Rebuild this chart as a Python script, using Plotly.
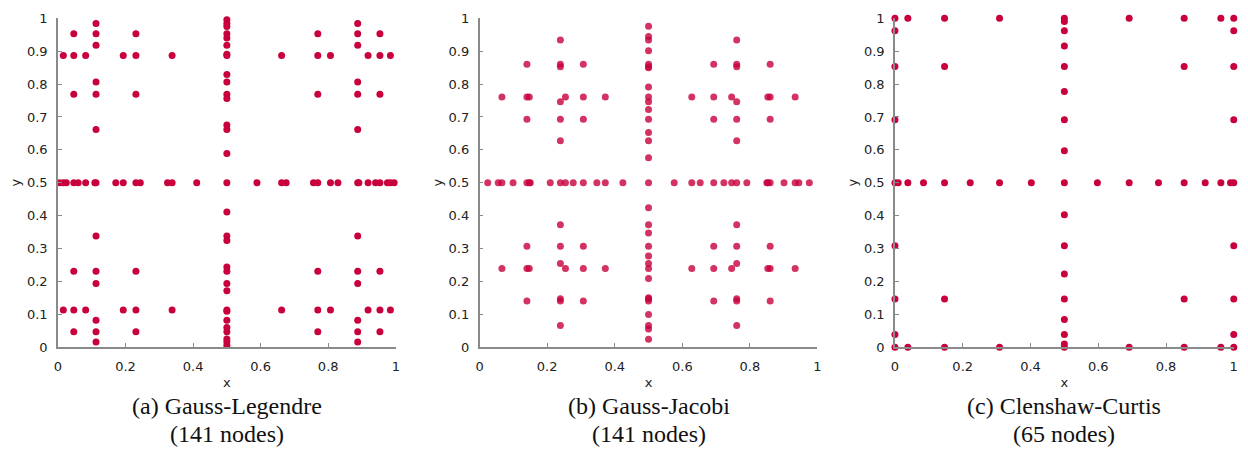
import plotly.graph_objects as go

# 1D quadrature nodes on [0, 1] for each rule (odd point counts share the midpoint)
gl_1 = [0.5]
gl_3 = [0.1127, 0.5, 0.8873]
gl_5 = [0.0469, 0.2308, 0.5, 0.7692, 0.9531]
gl_9 = [0.0159, 0.0820, 0.1933, 0.3379, 0.5, 0.6621, 0.8067, 0.9180, 0.9841]
gl_17 = [0.0047, 0.0247, 0.0599, 0.1092, 0.1712, 0.2437, 0.3244, 0.4108, 0.5,
         0.5892, 0.6756, 0.7563, 0.8288, 0.8908, 0.9401, 0.9753, 0.9953]

gj_1 = [0.5]
gj_3 = [0.239, 0.5, 0.761]
gj_5 = [0.140, 0.307, 0.5, 0.693, 0.860]
gj_9 = [0.066, 0.147, 0.254, 0.372, 0.5, 0.628, 0.746, 0.853, 0.934]
gj_17 = [0.024, 0.055, 0.099, 0.150, 0.209, 0.277, 0.347, 0.424, 0.5,
         0.576, 0.653, 0.723, 0.791, 0.850, 0.901, 0.945, 0.976]

cc_1 = [0.5]
cc_3 = [0.0, 0.5, 1.0]
cc_5 = [0.0, 0.1464, 0.5, 0.8536, 1.0]
cc_9 = [0.0, 0.0381, 0.1464, 0.3087, 0.5, 0.6913, 0.8536, 0.9619, 1.0]
cc_17 = [0.0, 0.0096, 0.0381, 0.0843, 0.1464, 0.2222, 0.3087, 0.4025, 0.5,
         0.5975, 0.6913, 0.7778, 0.8536, 0.9157, 0.9619, 0.9904, 1.0]

captions = [("(a) Gauss-Legendre", "(141 nodes)"),
            ("(b) Gauss-Jacobi", "(141 nodes)"),
            ("(c) Clenshaw-Curtis", "(65 nodes)")]

x_ticks = [0, 0.2, 0.4, 0.6, 0.8, 1]
y_ticks = [0, 0.1, 0.2, 0.3, 0.4, 0.5, 0.6, 0.7, 0.8, 0.9, 1]


def sparse_union(pairs):
    """Union of the tensor-product grids listed in pairs (x-nodes, y-nodes)."""
    seen = set()
    xs, ys = [], []
    for nx, ny in pairs:
        for a in nx:
            for b in ny:
                key = (round(a, 4), round(b, 4))
                if key not in seen:
                    seen.add(key)
                    xs.append(a)
                    ys.append(b)
    return xs, ys


def smolyak_pairs(r1, r3, r5, r9, r17):
    return [(r17, r1), (r9, r3), (r5, r5), (r3, r9), (r1, r17),
            (r9, r1), (r5, r3), (r3, r5), (r1, r9)]


grid_gl = sparse_union(smolyak_pairs(gl_1, gl_3, gl_5, gl_9, gl_17))
grid_gj = sparse_union(smolyak_pairs(gj_1, gj_3, gj_5, gj_9, gj_17))
grid_cc = sparse_union([(cc_17, cc_1), (cc_9, cc_3), (cc_5, cc_5),
                        (cc_3, cc_9), (cc_1, cc_17)])

W, H = 1248, 456
x_px = [(54.3, 394.3), (478.7, 818.7), (896.7, 1237.7)]
y_top, y_bot = 11.7, 351.7
dom_y = [1 - y_bot / H, 1 - y_top / H]

dot_color = "#c8003c"
fig = go.Figure()
grids = [grid_gl, grid_gj, grid_cc]
opac = [1.0, 0.8, 1.0]
for i, (gx, gy) in enumerate(grids):
    sfx = "" if i == 0 else str(i + 1)
    fig.add_trace(go.Scatter(
        x=gx, y=gy, mode="markers",
        xaxis="x" + sfx, yaxis="y" + sfx,
        marker=dict(size=7, color=dot_color, opacity=opac[i], line=dict(width=0)),
        cliponaxis=False, showlegend=False, hoverinfo="skip"))

tick_font = dict(family="DejaVu Sans, Liberation Sans, sans-serif", size=13, color="#222")
axis_common = dict(
    range=[0, 1], showgrid=False, zeroline=False, showline=True,
    linecolor="#8a8a8a", linewidth=1.5, ticks="inside", ticklen=4,
    tickcolor="#8a8a8a", tickwidth=1.2, mirror=False,
    tickfont=tick_font,
    title_font=dict(family="DejaVu Sans, Liberation Sans, sans-serif", size=13, color="#222"),
)

layout = dict(
    width=W, height=H, margin=dict(l=0, r=0, t=0, b=0),
    paper_bgcolor="white", plot_bgcolor="white",
    annotations=[],
)
for i, (x0, x1) in enumerate(x_px):
    sfx = "" if i == 0 else str(i + 1)
    layout["xaxis" + sfx] = dict(
        axis_common, domain=[x0 / W, x1 / W], anchor="y" + sfx,
        tickvals=x_ticks, ticktext=[("%g" % v) for v in x_ticks],
        ticklabelstandoff=7,
        title=dict(text="x", standoff=4))
    layout["yaxis" + sfx] = dict(
        axis_common, domain=dom_y, anchor="x" + sfx,
        tickvals=y_ticks, ticktext=[("%g" % v) for v in y_ticks],
        ticklabelstandoff=6,
        title=dict(text="y", standoff=3))
    cx = (x0 + x1) / 2 / W
    for j, line in enumerate(captions[i]):
        layout["annotations"].append(dict(
            text=line, x=cx, xref="paper", y=1 - (413 + 29 * j) / H, yref="paper",
            xanchor="center", yanchor="middle", showarrow=False,
            font=dict(family="Liberation Serif, serif", size=24, color="#111")))

fig.update_layout(**layout)
fig.write_html("out.html")
